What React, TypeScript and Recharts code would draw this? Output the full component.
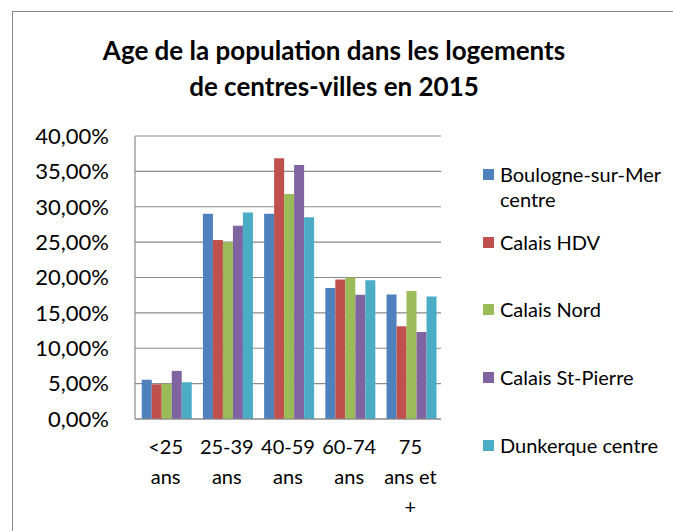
import { BarChart, Bar, XAxis, YAxis, CartesianGrid } from "recharts";

// Age groups (line breaks as they wrap under the axis)
const ageGroups = ["<25\nans", "25-39\nans", "40-59\nans", "60-74\nans", "75\nans et\n+"];

const boulogne = [0.0555, 0.29, 0.29, 0.185, 0.176];
const calaisHdv = [0.049, 0.253, 0.3685, 0.197, 0.131];
const calaisNord = [0.05, 0.25, 0.318, 0.2, 0.181];
const calaisStPierre = [0.068, 0.273, 0.359, 0.1755, 0.123];
const dunkerque = [0.052, 0.292, 0.285, 0.196, 0.173];

const yTicks = [0, 0.05, 0.1, 0.15, 0.2, 0.25, 0.3, 0.35, 0.4];

const series = [
  { key: "boulogne", name: "Boulogne-sur-Mer centre", values: boulogne, color: "#4F81BD" },
  { key: "calaisHdv", name: "Calais HDV", values: calaisHdv, color: "#C0504D" },
  { key: "calaisNord", name: "Calais Nord", values: calaisNord, color: "#9BBB59" },
  { key: "calaisStPierre", name: "Calais St-Pierre", values: calaisStPierre, color: "#8064A2" },
  { key: "dunkerque", name: "Dunkerque centre", values: dunkerque, color: "#4BACC6" },
];

const rows = ageGroups.map((group, i) => {
  const row: Record<string, string | number> = { group };
  series.forEach((s) => {
    row[s.key] = s.values[i];
  });
  return row;
});

const FONT = "Lato, 'Noto Sans', sans-serif";

const pct = (v: number) => (v * 100).toFixed(2).replace(".", ",") + "%";

function AgeTick(props: any) {
  const { x, y, payload } = props;
  const lines = String(payload.value).split("\n");
  return (
    <text x={x} y={y + 35} textAnchor="middle" fill="#000" fontSize={20} fontFamily={FONT}>
      {lines.map((line, i) => (
        <tspan key={i} x={x} dy={i === 0 ? 0 : 30}>
          {line}
        </tspan>
      ))}
    </text>
  );
}

export default function App() {
  return (
    <div
      style={{
        position: "absolute",
        left: 0,
        top: 0,
        width: 673,
        height: 531,
        overflow: "hidden",
        background: "#fff",
        fontFamily: FONT,
      }}
    >
      {/* chart frame */}
      <div
        style={{
          position: "absolute",
          left: 12,
          top: 11,
          width: 720,
          height: 600,
          border: "1.5px solid #8a8a8a",
        }}
      />

      <div
        style={{
          position: "absolute",
          left: 0,
          width: 668,
          top: 32,
          textAlign: "center",
          fontWeight: 700,
          fontSize: 26,
          lineHeight: "36px",
          color: "#000",
        }}
      >
        Age de la population dans les logements
        <br />
        de centres-villes en 2015
      </div>

      <div style={{ position: "absolute", left: 0, top: 0 }}>
        <BarChart
          width={673}
          height={531}
          data={rows}
          margin={{ top: 136, right: 232, bottom: 12, left: 35 }}
          barCategoryGap="11%"
          barGap={0}
        >
          <CartesianGrid vertical={false} stroke="#8a8a8a" strokeWidth={1.2} />
          <XAxis
            dataKey="group"
            height={100}
            tickLine={false}
            tickSize={0}
            tickMargin={0}
            axisLine={{ stroke: "#8a8a8a", strokeWidth: 1.2 }}
            tick={<AgeTick />}
            interval={0}
          />
          <YAxis
            width={100}
            domain={[0, 0.4]}
            ticks={yTicks}
            tickFormatter={pct}
            tickLine={false}
            tickSize={0}
            tickMargin={26}
            axisLine={{ stroke: "#8a8a8a", strokeWidth: 1.2 }}
            tick={{ fill: "#000", fontSize: 22, fontFamily: FONT }}
          />
          {series.map((s) => (
            <Bar
              key={s.key}
              dataKey={s.key}
              name={s.name}
              fill={s.color}
              isAnimationActive={false}
            />
          ))}
        </BarChart>
      </div>

      {/* legend */}
      <div style={{ position: "absolute", left: 483, top: 162 }}>
        {series.map((s) => (
          <div key={s.key} style={{ display: "flex", alignItems: "flex-start", height: 67.7 }}>
            <div
              style={{
                width: 11,
                height: 11,
                background: s.color,
                marginTop: 7,
                marginRight: 6,
                flexShrink: 0,
              }}
            />
            <div style={{ width: 170, fontSize: 20, lineHeight: "25px", color: "#000" }}>{s.name}</div>
          </div>
        ))}
      </div>
    </div>
  );
}
